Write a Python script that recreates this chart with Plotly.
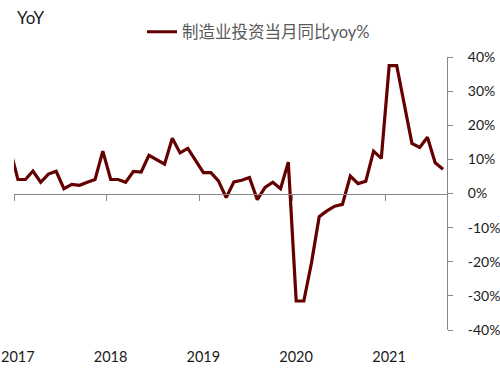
import plotly.graph_objects as go

# Monthly data (Dec 2016 point lies just left of the visible range and is clipped)
months = [
    "2016-12",
    "2017-01", "2017-02", "2017-03", "2017-04", "2017-05", "2017-06",
    "2017-07", "2017-08", "2017-09", "2017-10", "2017-11", "2017-12",
    "2018-01", "2018-02", "2018-03", "2018-04", "2018-05", "2018-06",
    "2018-07", "2018-08", "2018-09", "2018-10", "2018-11", "2018-12",
    "2019-01", "2019-02", "2019-03", "2019-04", "2019-05", "2019-06",
    "2019-07", "2019-08", "2019-09", "2019-10", "2019-11", "2019-12",
    "2020-01", "2020-02", "2020-03", "2020-04", "2020-05", "2020-06",
    "2020-07", "2020-08", "2020-09", "2020-10", "2020-11", "2020-12",
    "2021-01", "2021-02", "2021-03", "2021-04", "2021-05", "2021-06",
    "2021-07", "2021-08",
]
yoy = [
    13.0,
    4.1, 4.1, 6.6, 3.3, 5.7, 6.5, 1.4, 2.7, 2.4, 3.3, 4.1, 12.4,
    4.1, 4.1, 3.3, 6.5, 6.3, 11.2, 10.0, 8.6, 16.2, 11.9, 13.2, 9.7,
    6.1, 6.1, 3.7, -1.2, 3.4, 3.9, 4.7, -1.8, 1.8, 3.3, 1.4, 9.2,
    -31.5, -31.5, -20.4, -6.8, -5.1, -3.7, -3.2, 5.1, 2.9, 3.6, 12.4, 10.3,
    37.5, 37.5, 26.0, 14.7, 13.5, 16.5, 9.0, 7.1,
]
series_name = "制造业投资当月同比yoy%"
year_label_dates = ["2017-01-16", "2018-01-16", "2019-01-16", "2020-01-16", "2021-01-16"]
year_labels = ["2017", "2018", "2019", "2020", "2021"]
y_ticks = [-40, -30, -20, -10, 0, 10, 20, 30, 40]
y_tick_text = ["-40%", "-30%", "-20%", "-10%", "0%", "10%", "20%", "30%", "40%"]
x_range = ["2017-01-01", "2021-09-01"]

LINE_COLOR = "#650000"
AXIS_COLOR = "#888888"
FONT = "Lato, 'Noto Sans CJK SC', sans-serif"

fig = go.Figure()
fig.add_trace(go.Scatter(
    x=months, y=yoy, mode="lines", name=series_name,
    xperiod="M1", xperiodalignment="middle",
    line=dict(color=LINE_COLOR, width=3.2),
    xaxis="x", yaxis="y",
))
# helper trace on the upper-half axes whose bottom x axis sits at y = 0
fig.add_trace(go.Scatter(
    x=months, y=yoy, mode="lines", showlegend=False, hoverinfo="skip",
    xperiod="M1", xperiodalignment="middle",
    line=dict(color="rgba(0,0,0,0)", width=0),
    xaxis="x2", yaxis="y2",
))

fig.update_layout(
    width=500, height=371,
    margin=dict(l=14, r=53, t=57, b=41, autoexpand=False),
    paper_bgcolor="white", plot_bgcolor="rgba(0,0,0,0)",
    font=dict(family=FONT, color="#1a1a1a", size=14),
    showlegend=True,
    legend=dict(
        orientation="h", xref="container", yref="container",
        x=0.284, y=1 - 32 / 371, xanchor="left", yanchor="middle",
        font=dict(family=FONT, size=16.5, color="#595959"),
        bgcolor="rgba(0,0,0,0)",
    ),
    xaxis=dict(
        type="date", range=x_range, showgrid=False, zeroline=False,
        showline=False, ticks="outside", ticklen=14,
        tickcolor="rgba(0,0,0,0)", tickvals=year_label_dates,
        ticktext=year_labels, ticklabelposition="outside",
        tickfont=dict(size=14.5, color="#1a1a1a"),
    ),
    xaxis2=dict(
        type="date", range=x_range, anchor="y2", side="bottom",
        showgrid=False, zeroline=False, showline=True,
        linecolor=AXIS_COLOR, linewidth=1, ticks="outside", ticklen=6,
        tickcolor=AXIS_COLOR, dtick="M12", tick0="2017-01-01",
        showticklabels=False,
    ),
    yaxis=dict(
        side="right", range=[-40, 40], tickvals=y_ticks, ticktext=y_tick_text,
        showgrid=False, zeroline=False, showline=True, linecolor=AXIS_COLOR,
        linewidth=1, ticks="outside", ticklen=5, tickcolor=AXIS_COLOR,
        ticklabelstandoff=12, tickfont=dict(size=14, color="#1a1a1a"),
    ),
    yaxis2=dict(
        domain=[0.5, 1], range=[0, 40], anchor="x2", visible=False,
        showgrid=False, zeroline=False,
    ),
    annotations=[dict(
        text="YoY", xref="paper", yref="paper", x=(15 - 14) / 433,
        y=(330 - 17) / 273, xanchor="left", yanchor="middle", showarrow=False,
        font=dict(family=FONT, size=17, color="#1a1a1a"),
    )],
)

fig.write_html(
    "out.html",
    config={"displayModeBar": False},
    post_script="document.body.style.margin='0';document.body.style.padding='0';",
)
